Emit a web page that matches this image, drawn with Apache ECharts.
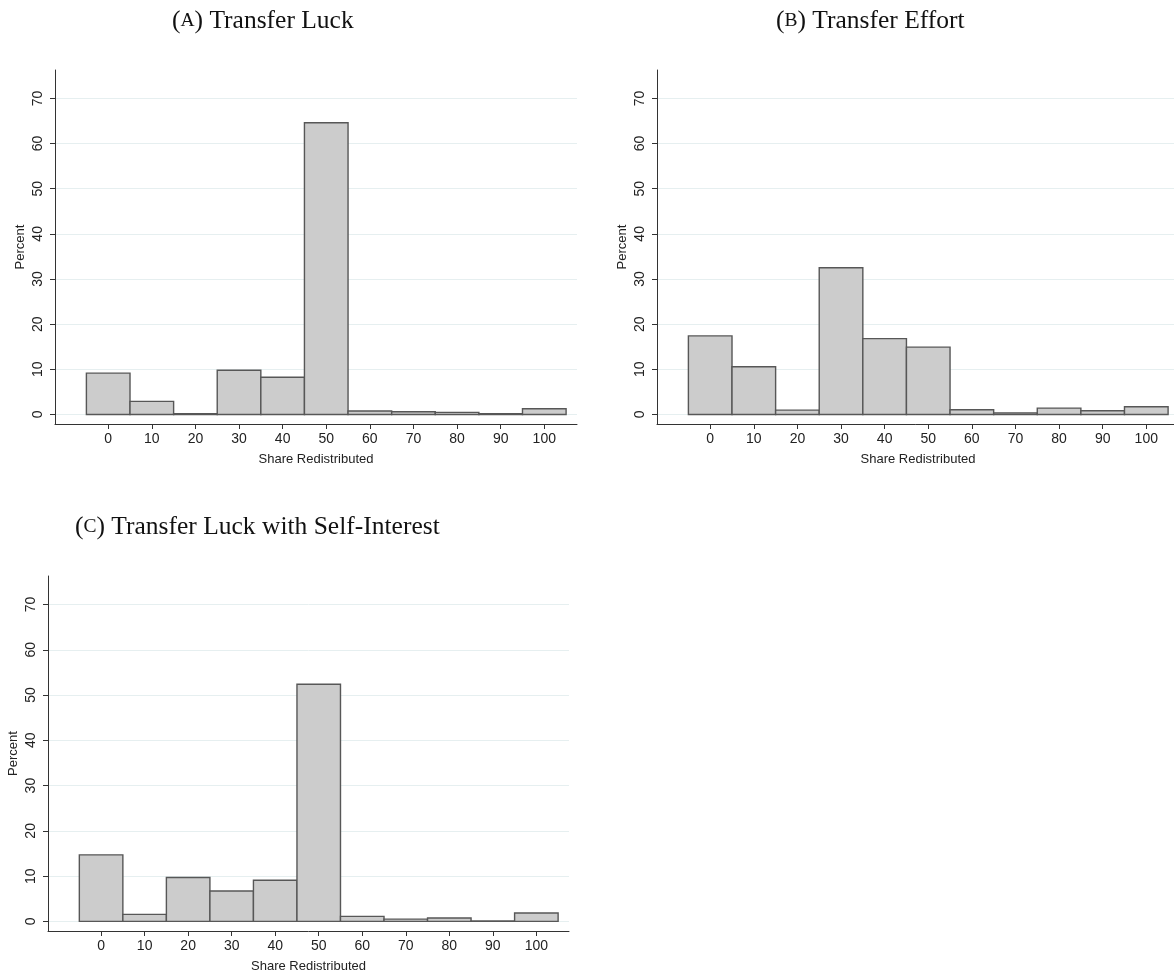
<!DOCTYPE html>
<html>
<head>
<meta charset="utf-8">
<script src="https://cdn.jsdelivr.net/npm/echarts@6/dist/echarts.min.js"></script>
<style>html,body{margin:0;padding:0;background:#fff}#c{width:1174px;height:971px}</style>
</head>
<body>
<div id="c"></div>
<script>
// ---- data ----
const bins = [0, 10, 20, 30, 40, 50, 60, 70, 80, 90, 100];
const binWidth = 10;
const luck = [9.15, 2.9, 0.15, 9.8, 8.25, 64.6, 0.75, 0.6, 0.45, 0.15, 1.25];
const effort = [17.4, 10.55, 0.95, 32.5, 16.8, 14.9, 1.05, 0.35, 1.4, 0.8, 1.7];
const luckSelf = [14.7, 1.55, 9.7, 6.7, 9.1, 52.4, 1.1, 0.5, 0.75, 0.1, 1.85];
const yTicks = [0, 10, 20, 30, 40, 50, 60, 70];
const xTicks = [0, 10, 20, 30, 40, 50, 60, 70, 80, 90, 100];
const titles = [['A', ') Transfer Luck'], ['B', ') Transfer Effort'], ['C', ') Transfer Luck with Self-Interest']];
const yName = 'Percent';
const xName = 'Share Redistributed';

// ---- layout ----
const grids = [
  {left: 55, top: 70, width: 522, height: 354},
  {left: 657, top: 70, width: 522, height: 354},
  {left: 48, top: 576, width: 521, height: 355}
];
const titlePos = [[172, 21], [776, 21], [75, 527]];
const seriesData = [luck, effort, luckSelf];

const sans = 'Liberation Sans, Arial, sans-serif';
const serif = 'Liberation Serif, serif';
const axisColor = '#333333';

const option = {
  backgroundColor: '#ffffff',
  animation: false,
  grid: grids.map(g => Object.assign({containLabel: false, outerBoundsMode: 'none'}, g)),
  xAxis: grids.map((g, i) => ({
    type: 'value', gridIndex: i, min: -12.2, max: 107.5,
    name: xName, nameLocation: 'middle', nameGap: 29,
    nameTextStyle: {fontFamily: sans, fontSize: 13, color: '#222'},
    axisLine: {show: true, onZero: false, lineStyle: {color: axisColor, width: 1}},
    axisTick: {show: true, length: 5, customValues: xTicks, lineStyle: {color: axisColor}},
    axisLabel: {customValues: xTicks, fontFamily: sans, fontSize: 14, color: '#222', margin: 8},
    splitLine: {show: false}
  })),
  yAxis: grids.map((g, i) => ({
    type: 'value', gridIndex: i, min: -2.12, max: 76.3,
    name: yName, nameLocation: 'middle', nameGap: 28, nameRotate: 90,
    nameTextStyle: {fontFamily: sans, fontSize: 13, color: '#222'},
    axisLine: {show: true, onZero: false, lineStyle: {color: axisColor, width: 1}},
    axisTick: {show: true, length: 5, customValues: yTicks, lineStyle: {color: axisColor}},
    axisLabel: {customValues: yTicks, rotate: 90, fontFamily: sans, fontSize: 14, color: '#222', margin: 10},
    splitLine: {show: true, lineStyle: {color: '#e6eff0', width: 1}}
  })),
  series: seriesData.map((vals, i) => ({
    type: 'custom', xAxisIndex: i, yAxisIndex: i,
    data: bins.map((b, k) => [b, vals[k]]),
    renderItem: function (params, api) {
      const c = api.value(0), v = api.value(1);
      const p0 = api.coord([c - binWidth / 2, 0]);
      const p1 = api.coord([c + binWidth / 2, v]);
      return {
        type: 'rect',
        shape: {x: p0[0], y: p1[1], width: p1[0] - p0[0], height: p0[1] - p1[1]},
        style: {fill: '#cccccc', stroke: '#575757', lineWidth: 1.4}
      };
    }
  })),
  graphic: titles.map((t, i) => ({
    type: 'text', x: titlePos[i][0], y: titlePos[i][1],
    style: {
      text: '{p|(}{s|' + t[0] + '}{p|' + t[1] + '}',
      align: 'left', verticalAlign: 'middle',
      rich: {
        p: {fontFamily: serif, fontSize: 25.5, fill: '#111'},
        s: {fontFamily: serif, fontSize: 19.5, fill: '#111'}
      }
    }
  }))
};

const chart = echarts.init(document.getElementById('c'), null, {renderer: 'canvas'});
chart.setOption(option);
</script>
</body>
</html>
